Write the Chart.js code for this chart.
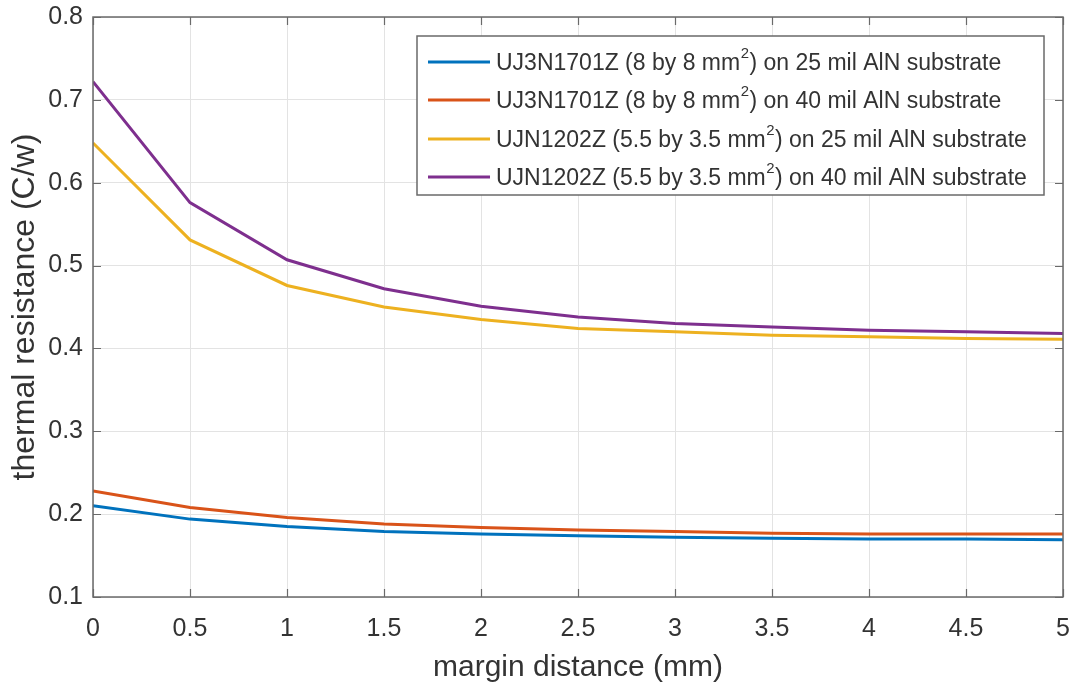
<!DOCTYPE html>
<html>
<head>
<meta charset="utf-8">
<script src="https://cdn.jsdelivr.net/npm/chart.js@4.4.0/dist/chart.umd.min.js"></script>
<style>
  html, body { margin: 0; padding: 0; background: #ffffff; }
  #wrap { width: 1073px; height: 688px; position: relative; }
</style>
</head>
<body>
<div id="wrap"><canvas id="c" width="1073" height="688"></canvas></div>
<script>
// ---- data ----
const marginDistance = [0, 0.5, 1, 1.5, 2, 2.5, 3, 3.5, 4, 4.5, 5];
const uj3n_25mil = [0.210, 0.194, 0.185, 0.179, 0.176, 0.174, 0.172, 0.171, 0.170, 0.170, 0.169];
const uj3n_40mil = [0.228, 0.208, 0.196, 0.188, 0.184, 0.181, 0.179, 0.177, 0.176, 0.176, 0.176];
const ujn_25mil  = [0.648, 0.531, 0.476, 0.450, 0.435, 0.424, 0.420, 0.416, 0.414, 0.412, 0.411];
const ujn_40mil  = [0.722, 0.576, 0.507, 0.472, 0.451, 0.438, 0.430, 0.426, 0.422, 0.420, 0.418];
const seriesLabels = [
  'UJ3N1701Z (8 by 8 mm²) on 25 mil AlN substrate',
  'UJ3N1701Z (8 by 8 mm²) on 40 mil AlN substrate',
  'UJN1202Z (5.5 by 3.5 mm²) on 25 mil AlN substrate',
  'UJN1202Z (5.5 by 3.5 mm²) on 40 mil AlN substrate'
];
const xTickLabels = ['0', '0.5', '1', '1.5', '2', '2.5', '3', '3.5', '4', '4.5', '5'];
const yTickLabels = ['0.1', '0.2', '0.3', '0.4', '0.5', '0.6', '0.7', '0.8'];
const xTitle = 'margin distance (mm)';
const yTitle = 'thermal resistance (C/w)';

const colors = ['#0072BD', '#D95319', '#EDB120', '#7E2F8E'];
const seriesValues = [uj3n_25mil, uj3n_40mil, ujn_25mil, ujn_40mil];

const FONT = '"Liberation Sans", Arial, Helvetica, sans-serif';
const AXIS_COLOR = '#6a6a6a';
const TEXT_COLOR = '#333333';

function toPoints(vals) {
  return marginDistance.map((x, i) => ({ x: x, y: vals[i] }));
}

// Box, inner ticks (MATLAB style) and in-plot legend
const matlabPlugin = {
  id: 'matlabStyle',
  afterDatasetsDraw(chart) {
    const { ctx, chartArea: a, scales } = chart;
    ctx.save();
    ctx.strokeStyle = AXIS_COLOR;
    ctx.lineWidth = 1.2;
    const tl = 8;
    scales.x.ticks.forEach(t => {
      const px = Math.round(scales.x.getPixelForValue(t.value)) + 0.5;
      ctx.beginPath();
      ctx.moveTo(px, a.bottom); ctx.lineTo(px, a.bottom - tl);
      ctx.moveTo(px, a.top); ctx.lineTo(px, a.top + tl);
      ctx.stroke();
    });
    scales.y.ticks.forEach(t => {
      const py = Math.round(scales.y.getPixelForValue(t.value)) + 0.5;
      ctx.beginPath();
      ctx.moveTo(a.left, py); ctx.lineTo(a.left + tl, py);
      ctx.moveTo(a.right, py); ctx.lineTo(a.right - tl, py);
      ctx.stroke();
    });
    ctx.lineWidth = 1.5;
    ctx.strokeRect(a.left, a.top, a.right - a.left, a.bottom - a.top);

    // legend
    const bx = 417, by = 36, bw = 627, bh = 159;
    ctx.fillStyle = '#ffffff';
    ctx.fillRect(bx, by, bw, bh);
    ctx.strokeStyle = AXIS_COLOR;
    ctx.lineWidth = 1.5;
    ctx.strokeRect(bx, by, bw, bh);
    const rowY = [62, 100, 139, 177];
    const fs = 23;
    chart.data.datasets.forEach((ds, i) => {
      const y = rowY[i];
      ctx.strokeStyle = ds.borderColor;
      ctx.lineWidth = 3;
      ctx.beginPath();
      ctx.moveTo(428, y); ctx.lineTo(490, y);
      ctx.stroke();
      ctx.fillStyle = TEXT_COLOR;
      ctx.textBaseline = 'middle';
      ctx.textAlign = 'left';
      const parts = ds.label.split('²');
      let x = 496;
      parts.forEach((p, k) => {
        ctx.font = fs + 'px ' + FONT;
        ctx.fillText(p, x, y + 2);
        x += ctx.measureText(p).width;
        if (k < parts.length - 1) {
          ctx.font = (fs * 0.65) + 'px ' + FONT;
          ctx.fillText('2', x + 0.5, y - 8);
          x += ctx.measureText('2').width + 1;
        }
      });
    });
    ctx.restore();
  }
};

new Chart(document.getElementById('c'), {
  type: 'line',
  data: {
    datasets: seriesValues.map((vals, i) => ({
      label: seriesLabels[i],
      data: toPoints(vals),
      borderColor: colors[i],
      backgroundColor: colors[i],
      borderWidth: 3,
      pointRadius: 0,
      tension: 0,
      fill: false
    }))
  },
  options: {
    responsive: false,
    animation: false,
    events: [],
    layout: { padding: { left: 0, top: 17, right: 10, bottom: 0 } },
    plugins: {
      legend: { display: false },
      tooltip: { enabled: false },
      title: { display: false }
    },
    scales: {
      x: {
        type: 'linear',
        min: 0, max: 5,
        ticks: {
          stepSize: 0.5,
          color: TEXT_COLOR,
          font: { family: FONT, size: 25 },
          padding: 17,
          maxRotation: 0,
          autoSkip: false,
          callback: (v) => xTickLabels[Math.round(v * 2)]
        },
        grid: { color: '#e3e3e3', lineWidth: 1, drawTicks: false },
        border: { display: false },
        title: {
          display: true, text: xTitle, color: TEXT_COLOR,
          font: { family: FONT, size: 30 },
          padding: { top: 0, bottom: 2 }
        },
        afterFit: (s) => {
          s.height = 688 - 597;
          s.paddingLeft = 0; s.paddingRight = 0; s.paddingTop = 0; s.paddingBottom = 0;
        }
      },
      y: {
        type: 'linear',
        min: 0.1, max: 0.8,
        ticks: {
          stepSize: 0.1,
          color: TEXT_COLOR,
          font: { family: FONT, size: 25 },
          padding: 10,
          autoSkip: false,
          callback: (v) => yTickLabels[Math.round(v * 10) - 1]
        },
        grid: { color: '#e3e3e3', lineWidth: 1, drawTicks: false },
        border: { display: false },
        title: {
          display: true, text: yTitle, color: TEXT_COLOR,
          font: { family: FONT, size: 32 },
          padding: { top: 6, bottom: 0 }
        },
        afterFit: (s) => {
          s.width = 93;
          s.paddingLeft = 0; s.paddingRight = 0; s.paddingTop = 0; s.paddingBottom = 0;
        }
      }
    }
  },
  plugins: [matlabPlugin]
});
</script>
</body>
</html>
